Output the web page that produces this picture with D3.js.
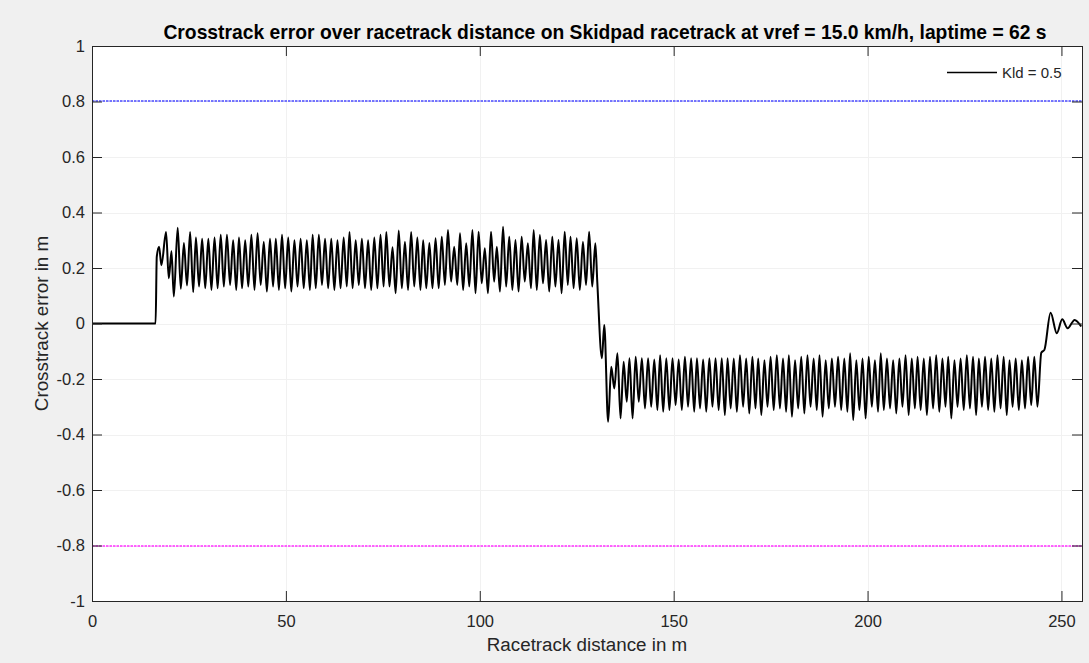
<!DOCTYPE html>
<html>
<head>
<meta charset="utf-8">
<script src="https://cdn.jsdelivr.net/npm/d3@7"></script>
<style>
  html, body { margin: 0; padding: 0; background: #f0f0f0; }
  svg { display: block; font-family: "Liberation Sans", Arial, Helvetica, sans-serif; }
</style>
</head>
<body>
<svg id="chart" width="1089" height="663"></svg>
<script>
// ---- Axis setup -------------------------------------------------------
const titleText = "Crosstrack error over racetrack distance on Skidpad racetrack at vref = 15.0 km/h, laptime = 62 s";
const xLabel = "Racetrack distance in m";
const yLabel = "Crosstrack error in m";
const legendLabel = "Kld = 0.5";
const distanceRange = [0, 255.3];
const errorRange = [-1, 1];
const xTicks = [0, 50, 100, 150, 200, 250];
const xTickLabels = ["0", "50", "100", "150", "200", "250"];
const yTicks = [-1, -0.8, -0.6, -0.4, -0.2, 0, 0.2, 0.4, 0.6, 0.8, 1];
const yTickLabels = ["-1", "-0.8", "-0.6", "-0.4", "-0.2", "0", "0.2", "0.4", "0.6", "0.8", "1"];
const upperBound = 0.8;
const lowerBound = -0.8;

// ---- Crosstrack error trace (distance in m, error in m) --------------
// Straight entry and first settling swings
const entryDistance = [0, 16.4, 16.7, 17.3, 17.9, 19.1, 19.8, 20.5, 21.1];
const entryError    = [0, 0, 0.24, 0.277, 0.21, 0.33, 0.163, 0.26, 0.097];

// First circle: local maxima
const leftPeakDistance = [
  22.1, 23.7, 25.3, 26.8, 28.4, 30.0, 31.6, 33.2, 34.8, 36.4,
  37.9, 39.5, 41.1, 42.7, 44.3, 45.9, 47.4, 49.0, 50.6, 52.2,
  53.8, 55.4, 56.9, 58.5, 60.1, 61.7, 63.3, 64.9, 66.4, 68.0,
  69.6, 71.2, 72.8, 74.4, 75.9, 77.5, 79.1, 80.7, 82.3, 83.9,
  85.4, 87.0, 88.6, 90.2, 91.8, 93.4, 94.9, 96.5, 98.1, 99.7,
  101.3, 102.9, 104.4, 106.0, 107.6, 109.2, 110.8, 112.4, 113.9, 115.5,
  117.1, 118.7, 120.3, 121.9, 123.4, 125.0, 126.6, 128.2, 129.8
];
const leftPeakError = [
  0.345, 0.29, 0.33, 0.31, 0.305, 0.305, 0.31, 0.32, 0.32, 0.30,
  0.31, 0.30, 0.32, 0.325, 0.295, 0.305, 0.305, 0.32, 0.31, 0.30,
  0.305, 0.30, 0.32, 0.32, 0.305, 0.305, 0.30, 0.31, 0.33, 0.30,
  0.305, 0.30, 0.31, 0.32, 0.33, 0.275, 0.335, 0.295, 0.33, 0.31,
  0.30, 0.29, 0.307, 0.313, 0.337, 0.277, 0.325, 0.289, 0.337, 0.331,
  0.271, 0.331, 0.277, 0.349, 0.313, 0.301, 0.313, 0.289, 0.337, 0.319,
  0.301, 0.313, 0.301, 0.331, 0.313, 0.307, 0.295, 0.331, 0.289
];
// First circle: local minima
const leftTroughDistance = [
  22.9, 24.5, 26.1, 27.6, 29.2, 30.8, 32.4, 34.0, 35.6, 37.2,
  38.7, 40.3, 41.9, 43.5, 45.1, 46.7, 48.2, 49.8, 51.4, 53.0,
  54.6, 56.2, 57.7, 59.3, 60.9, 62.5, 64.1, 65.7, 67.2, 68.8,
  70.4, 72.0, 73.6, 75.2, 76.7, 78.3, 79.9, 81.5, 83.1, 84.7,
  86.2, 87.8, 89.4, 91.0, 92.6, 94.2, 95.7, 97.3, 98.9, 100.5,
  102.1, 103.7, 105.2, 106.8, 108.4, 110.0, 111.6, 113.2, 114.7, 116.3,
  117.9, 119.5, 121.1, 122.7, 124.2, 125.8, 127.4, 129.0
];
const leftTroughError = [
  0.125, 0.137, 0.113, 0.133, 0.127, 0.121, 0.127, 0.133, 0.139, 0.121,
  0.127, 0.133, 0.121, 0.139, 0.115, 0.133, 0.121, 0.127, 0.115, 0.133,
  0.127, 0.121, 0.127, 0.139, 0.127, 0.121, 0.127, 0.133, 0.127, 0.139,
  0.127, 0.121, 0.127, 0.133, 0.133, 0.109, 0.127, 0.121, 0.133, 0.121,
  0.127, 0.127, 0.127, 0.139, 0.151, 0.139, 0.121, 0.133, 0.109, 0.145,
  0.109, 0.151, 0.115, 0.133, 0.121, 0.115, 0.151, 0.127, 0.121, 0.145,
  0.115, 0.133, 0.109, 0.139, 0.127, 0.121, 0.139, 0.133
];

// Crossover between the two circles
const crossDistance = [130.3, 131.5, 132.1, 133.1];
const crossError    = [0.15, -0.125, -0.005, -0.354];

// Second circle: local maxima
const rightPeakDistance = [
  133.9, 135.5, 137.1, 138.6, 140.2, 141.8, 143.4, 145.0, 146.5, 148.1,
  149.7, 151.3, 152.9, 154.5, 156.0, 157.6, 159.2, 160.8, 162.4, 163.9,
  165.5, 167.1, 168.7, 170.3, 171.8, 173.4, 175.0, 176.6, 178.2, 179.7,
  181.3, 182.9, 184.5, 186.1, 187.6, 189.2, 190.8, 192.4, 194.0, 195.5,
  197.1, 198.7, 200.3, 201.9, 203.4, 205.0, 206.6, 208.2, 209.8, 211.4,
  212.9, 214.5, 216.1, 217.7, 219.3, 220.8, 222.4, 224.0, 225.6, 227.2,
  228.7, 230.3, 231.9, 233.5, 235.1, 236.6, 238.2, 239.8, 241.4, 243.0
];
const rightPeakError = [
  -0.156, -0.107, -0.138, -0.125, -0.12, -0.125, -0.125, -0.13, -0.114, -0.125,
  -0.125, -0.13, -0.12, -0.125, -0.125, -0.13, -0.125, -0.125, -0.125, -0.125,
  -0.126, -0.114, -0.126, -0.12, -0.126, -0.132, -0.12, -0.114, -0.126, -0.114,
  -0.132, -0.12, -0.114, -0.126, -0.114, -0.132, -0.126, -0.12, -0.126, -0.107,
  -0.132, -0.126, -0.12, -0.132, -0.107, -0.126, -0.132, -0.126, -0.114, -0.126,
  -0.12, -0.126, -0.12, -0.114, -0.126, -0.12, -0.132, -0.126, -0.114, -0.12,
  -0.126, -0.12, -0.126, -0.114, -0.12, -0.132, -0.126, -0.132, -0.12, -0.12
];
// Second circle: local minima
const rightTroughDistance = [
  134.7, 136.3, 137.9, 139.4, 141.0, 142.6, 144.2, 145.8, 147.3, 148.9,
  150.5, 152.1, 153.7, 155.3, 156.8, 158.4, 160.0, 161.6, 163.2, 164.7,
  166.3, 167.9, 169.5, 171.1, 172.6, 174.2, 175.8, 177.4, 179.0, 180.5,
  182.1, 183.7, 185.3, 186.9, 188.4, 190.0, 191.6, 193.2, 194.8, 196.3,
  197.9, 199.5, 201.1, 202.7, 204.2, 205.8, 207.4, 209.0, 210.6, 212.2,
  213.7, 215.3, 216.9, 218.5, 220.1, 221.6, 223.2, 224.8, 226.4, 228.0,
  229.5, 231.1, 232.7, 234.3, 235.9, 237.4, 239.0, 240.6, 242.2, 243.8
];
const rightTroughError = [
  -0.234, -0.342, -0.282, -0.342, -0.282, -0.306, -0.30, -0.312, -0.318, -0.312,
  -0.294, -0.312, -0.30, -0.318, -0.306, -0.318, -0.30, -0.312, -0.33, -0.306,
  -0.318, -0.30, -0.324, -0.306, -0.33, -0.30, -0.312, -0.306, -0.318, -0.336,
  -0.306, -0.324, -0.30, -0.312, -0.336, -0.306, -0.30, -0.312, -0.318, -0.348,
  -0.312, -0.342, -0.30, -0.318, -0.312, -0.306, -0.324, -0.30, -0.33, -0.306,
  -0.312, -0.33, -0.306, -0.318, -0.30, -0.342, -0.30, -0.312, -0.306, -0.33,
  -0.30, -0.312, -0.318, -0.306, -0.33, -0.30, -0.312, -0.306, -0.294, -0.30
];

// Straight exit
const exitDistance = [244.8, 245.6, 247.2, 248.8, 250.2, 251.6, 253.4, 255.1];
const exitError    = [-0.105, -0.095, 0.039, -0.035, 0.015, -0.017, 0.013, -0.011];

// ---- Build the trace ---------------------------------------------------
const zipTrace = (ds, es) => ds.map((d, i) => ({ d, e: es[i] }));
const trace = [].concat(
  zipTrace(entryDistance, entryError),
  zipTrace(leftPeakDistance, leftPeakError),
  zipTrace(leftTroughDistance, leftTroughError),
  zipTrace(crossDistance, crossError),
  zipTrace(rightPeakDistance, rightPeakError),
  zipTrace(rightTroughDistance, rightTroughError),
  zipTrace(exitDistance, exitError)
).sort((a, b) => a.d - b.d);

// ---- Layout ------------------------------------------------------------
const plot = { left: 92, right: 1082, top: 46, bottom: 601 };
const svg = d3.select("#chart");
const x = d3.scaleLinear().domain(distanceRange).range([plot.left, plot.right]);
const y = d3.scaleLinear().domain(errorRange).range([plot.bottom, plot.top]);
const ink = "#262626";

// Plot area
svg.append("rect")
  .attr("x", plot.left).attr("y", plot.top)
  .attr("width", plot.right - plot.left).attr("height", plot.bottom - plot.top)
  .attr("fill", "#ffffff");

// Grid
const grid = svg.append("g").attr("stroke", "#f1f1f1").attr("stroke-width", 1);
grid.selectAll("line.gx").data(xTicks.slice(1)).join("line")
  .attr("x1", d => Math.round(x(d)) + 0.5).attr("x2", d => Math.round(x(d)) + 0.5)
  .attr("y1", plot.top).attr("y2", plot.bottom);
grid.selectAll("line.gy").data(yTicks.slice(1, -1)).join("line")
  .attr("y1", d => Math.round(y(d)) + 0.5).attr("y2", d => Math.round(y(d)) + 0.5)
  .attr("x1", plot.left).attr("x2", plot.right);

// Bound lines (dotted)
svg.append("line")
  .attr("x1", x(distanceRange[0])).attr("x2", x(distanceRange[1]))
  .attr("y1", Math.round(y(upperBound))).attr("y2", Math.round(y(upperBound)))
  .attr("stroke", "#4848ff").attr("stroke-width", 1.6).attr("stroke-dasharray", "2.5,1");
svg.append("line")
  .attr("x1", x(distanceRange[0])).attr("x2", x(distanceRange[1]))
  .attr("y1", Math.round(y(lowerBound))).attr("y2", Math.round(y(lowerBound)))
  .attr("stroke", "#ff30ff").attr("stroke-width", 1.6).attr("stroke-dasharray", "2.5,1");

// Trace
const line = d3.line().x(p => x(p.d)).y(p => y(p.e)).curve(d3.curveMonotoneX);
svg.append("path").datum(trace)
  .attr("d", line)
  .attr("fill", "none").attr("stroke", "#000000").attr("stroke-width", 2)
  .attr("stroke-linejoin", "round");

// Axes (ticks point inward, MATLAB style box)
const tickFont = "16.5px";
const xAxisBottom = d3.axisBottom(x).tickValues(xTicks)
  .tickFormat((d, i) => xTickLabels[i]).tickSize(-10).tickPadding(14);
const xAxisTop = d3.axisTop(x).tickValues(xTicks).tickFormat("").tickSize(-10);
const yAxisLeft = d3.axisLeft(y).tickValues(yTicks)
  .tickFormat((d, i) => yTickLabels[i]).tickSize(-10).tickPadding(7);
const yAxisRight = d3.axisRight(y).tickValues(yTicks).tickFormat("").tickSize(-10);

function styleAxis(g) {
  g.select(".domain").remove();
  g.selectAll(".tick line").attr("stroke", ink);
  g.selectAll(".tick text").attr("fill", ink).style("font-size", tickFont);
}
svg.append("g").attr("transform", `translate(0,${plot.bottom})`).call(xAxisBottom).call(styleAxis);
svg.append("g").attr("transform", `translate(0,${plot.top})`).call(xAxisTop).call(styleAxis);
svg.append("g").attr("transform", `translate(${plot.left},0)`).call(yAxisLeft).call(styleAxis);
svg.append("g").attr("transform", `translate(${plot.right},0)`).call(yAxisRight).call(styleAxis);

// Box
svg.append("rect")
  .attr("x", plot.left + 0.5).attr("y", plot.top + 0.5)
  .attr("width", plot.right - plot.left).attr("height", plot.bottom - plot.top)
  .attr("fill", "none").attr("stroke", ink).attr("stroke-width", 1);

// Title and axis labels
svg.append("text")
  .attr("x", 605).attr("y", 39).attr("text-anchor", "middle")
  .attr("fill", "#000").style("font-size", "19.3px").style("font-weight", "bold")
  .text(titleText);
svg.append("text")
  .attr("x", (plot.left + plot.right) / 2).attr("y", 651).attr("text-anchor", "middle")
  .attr("fill", ink).style("font-size", "18.8px")
  .text(xLabel);
svg.append("text")
  .attr("transform", `translate(48,${(plot.top + plot.bottom) / 2}) rotate(-90)`)
  .attr("text-anchor", "middle")
  .attr("fill", ink).style("font-size", "18.8px")
  .text(yLabel);

// Legend
const legend = svg.append("g").attr("transform", "translate(947,72)");
legend.append("line").attr("x1", 0).attr("x2", 50).attr("y1", 0.5).attr("y2", 0.5)
  .attr("stroke", "#000").attr("stroke-width", 1.5);
legend.append("text").attr("x", 55).attr("y", 5.5)
  .attr("fill", ink).style("font-size", "15px").text(legendLabel);
</script>
</body>
</html>
